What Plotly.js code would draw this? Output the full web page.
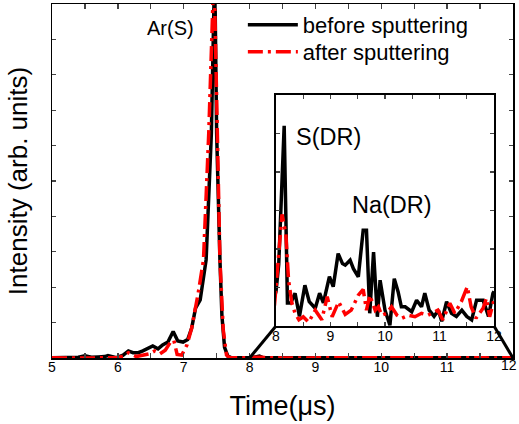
<!DOCTYPE html>
<html>
<head>
<meta charset="utf-8">
<script src="https://cdn.plot.ly/plotly-3.0.1.min.js"></script>
<style>html,body{margin:0;padding:0;background:#fff;}#chart{width:519px;height:424px;}</style>
</head>
<body>
<div id="chart"></div>
<script>
// Time (µs) and intensity (arb. units)
const timeBefore = [5.0,5.1,5.2,5.3,5.4,5.5,5.6,5.7,5.8,5.85,5.9,5.98,6.08,6.16,6.23,6.31,6.38,6.46,6.53,6.61,6.68,6.76,6.84,6.91,6.99,7.06,7.12,7.18,7.25,7.34,7.42,7.47,7.5,7.55,7.58,7.62,7.67,7.72,7.8,7.9,7.96,
  8.0,8.05,8.1,8.15,8.21,8.27,8.35,8.43,8.53,8.61,8.72,8.8,8.87,8.98,9.05,9.14,9.22,9.27,9.36,9.42,9.51,9.6,9.66,9.72,9.79,9.86,9.91,10.0,10.09,10.17,10.24,10.3,10.37,10.49,10.58,10.67,10.73,10.81,10.9,10.98,11.04,11.13,11.22,11.31,11.41,11.5,11.59,11.68,11.8,11.9,11.98,12.0];
const intensityBefore = [1,1,2,0,2,6,2,3,4,7,4,1,8,20,15,15,20,28,34,26,37,45,75,48,45,52,84,141,164,277,635,1100,635,277,120,30,5,1,0.5,0.5,0.7,
  0.9,1.6,3.3,5.2,0.6,0.6,0.85,0.25,1.06,0.63,0.46,0.85,0.6,1.28,1.02,1.88,1.62,1.58,1.71,1.49,1.28,2.49,2.49,0.33,1.92,0.24,1.19,0.41,0.02,1.23,0.89,0.5,0.5,0.37,0.67,0.5,0.85,0.41,0.25,0.41,0.12,0.63,0.33,0.25,0.41,0.25,0.16,0.67,0.67,0.25,0.85,0.9];

const timeAfter = [5.0,5.2,5.4,5.6,5.8,6.0,6.08,6.16,6.28,6.38,6.48,6.56,6.64,6.72,6.8,6.85,6.9,6.97,7.05,7.12,7.22,7.3,7.38,7.46,7.51,7.55,7.6,7.65,7.7,7.8,7.9,7.97,
  8.05,8.11,8.18,8.23,8.29,8.35,8.42,8.5,8.6,8.72,8.84,8.94,9.03,9.15,9.27,9.38,9.51,9.6,9.66,9.72,9.82,9.88,9.94,10.03,10.12,10.22,10.31,10.43,10.55,10.67,10.79,10.97,11.06,11.19,11.28,11.4,11.51,11.58,11.67,11.8,11.86,11.92,12.0];
const intensityAfter = [0.5,0,1,0,1,1,5,15,4,8,12,20,12,22,45,50,10,8,37,84,183,277,635,1100,635,277,80,8,1,0.5,0.3,0.5,
  1.8,2.9,2.4,1.2,0.6,0.33,0.16,0.24,0.1,0.41,0.16,0.76,0.24,0.63,0.3,0.41,0.8,0.95,0.41,0.8,0.41,0.5,0.28,0.33,0.5,0.28,0.2,0.28,0.24,0.33,0.28,0.41,0.16,0.59,0.33,0.63,1.02,0.5,0.2,0.46,0.72,0.24,0.68];

const seriesNames = ['before sputtering', 'after sputtering'];
const mainTicks = [5,6,7,8,9,10,11,12];
const insetTicks = [8,9,10,11,12];

const FONT = 'Liberation Sans, Arial, sans-serif';
const redDash = '15px,5px,3px,5px';

const mainX = {range:[5,12], domain:[0,1]};
const insetXDomain = [0.4859, 0.9588];
const insetYDomain = [0.0904, 0.743];
const insetXRange = [8,12];

const traces = [
  {x: timeBefore, y: intensityBefore, name: seriesNames[0], type:'scatter', mode:'lines', legend:'legend',
   line:{color:'#000', width:3.5}, xaxis:'x', yaxis:'y'},
  {x: timeAfter, y: intensityAfter, name: seriesNames[1], type:'scatter', mode:'lines', legend:'legend2',
   line:{color:'#ff0000', width:3.5, dash: redDash}, xaxis:'x', yaxis:'y'},
  {x: timeBefore, y: intensityBefore, name: seriesNames[0], type:'scatter', mode:'lines', showlegend:false,
   line:{color:'#000', width:3.5}, xaxis:'x2', yaxis:'y2'},
  {x: timeAfter, y: intensityAfter, name: seriesNames[1], type:'scatter', mode:'lines', showlegend:false,
   line:{color:'#ff0000', width:3.5, dash: redDash}, xaxis:'x2', yaxis:'y2'}
];

function toPaperX(v, range, domain){ return domain[0] + (v-range[0])/(range[1]-range[0])*(domain[1]-domain[0]); }
const x8 = toPaperX(insetXRange[0], mainX.range, mainX.domain);
const x12 = toPaperX(insetXRange[1], mainX.range, mainX.domain);

// the last main tick label sits at the right page edge: drawn as a right-aligned text so it stays whole
const lastTick = mainTicks[mainTicks.length - 1];
const mainTickText = mainTicks.map(v => v === lastTick ? '' : String(v));

const legendStyle = {xanchor:'left', yanchor:'top', bgcolor:'rgba(0,0,0,0)',
  font:{family:FONT, size:22, color:'#000'}, itemwidth:50};

const layout = {
  width:519, height:424,
  margin:{l:52, r:6, t:4, b:66},
  paper_bgcolor:'#fff', plot_bgcolor:'rgba(0,0,0,0)',
  font:{family:FONT, color:'#000', size:14},
  showlegend:true,
  legend:Object.assign({x:0.414, y:1.0}, legendStyle),
  legend2:Object.assign({x:0.414, y:0.9237}, legendStyle),
  xaxis:{range:mainX.range, domain:mainX.domain, tickvals:mainTicks, ticktext:mainTickText, ticks:'inside', ticklen:5, tickwidth:1.3,
         minor:{dtick:0.5, ticks:'inside', ticklen:5, tickwidth:1.3}, showline:true, linewidth:1.5, linecolor:'#000',
         mirror:'ticks', showgrid:false, zeroline:false, tickfont:{size:14}, ticklabelstandoff:-4,
         title:{text:'Time(\u03bcs)', font:{size:27}, standoff:22}},
  yaxis:{range:[0,1000], dtick:100, ticks:'inside', ticklen:4, tickwidth:1.3, showticklabels:false,
         showline:true, linewidth:1.5, linecolor:'#000', mirror:'ticks', showgrid:false, zeroline:false,
         title:{text:'Intensity (arb. units)', font:{size:26}, standoff:15}},
  xaxis2:{range:insetXRange, domain:insetXDomain, anchor:'y2', tickvals:insetTicks, ticks:'inside', ticklen:4, tickwidth:1.3,
          minor:{dtick:0.5, ticks:'inside', ticklen:4, tickwidth:1.3}, showline:true, linewidth:2, linecolor:'#000',
          mirror:'ticks', showgrid:false, zeroline:false, tickfont:{size:14}, ticklabeloverflow:'allow', ticklabelstandoff:-4},
  yaxis2:{range:[0,6], domain:insetYDomain, anchor:'x2', dtick:1, ticks:'inside', ticklen:4, tickwidth:1.3,
          showticklabels:false, showline:true, linewidth:2, linecolor:'#000', mirror:'ticks', showgrid:false, zeroline:false},
  shapes:[
    {type:'line', xref:'paper', yref:'paper', x0:x8, y0:0, x1:insetXDomain[0], y1:insetYDomain[0], line:{color:'#000', width:3}},
    {type:'line', xref:'paper', yref:'paper', x0:x12, y0:0, x1:insetXDomain[1], y1:insetYDomain[0], line:{color:'#000', width:3}}
  ],
  annotations:[
    {text:'Ar(S)', xref:'paper', yref:'paper', x:0.256, y:0.932, showarrow:false, xanchor:'center', yanchor:'middle', font:{size:20}},
    {text:'S(DR)', xref:'paper', yref:'paper', x:0.5987, y:0.6243, showarrow:false, xanchor:'center', yanchor:'middle', font:{size:23.5}},
    {text:'Na(DR)', xref:'paper', yref:'paper', x:0.7375, y:0.4322, showarrow:false, xanchor:'center', yanchor:'middle', font:{size:23.5}},
    {text:String(lastTick), xref:'paper', yref:'paper', x:1.0108, y:-0.0198, showarrow:false, xanchor:'right', yanchor:'middle',
     font:{size:14}, borderpad:0}
  ]
};

Plotly.newPlot('chart', traces, layout, {displayModeBar:false, staticPlot:true});
</script>
</body>
</html>
